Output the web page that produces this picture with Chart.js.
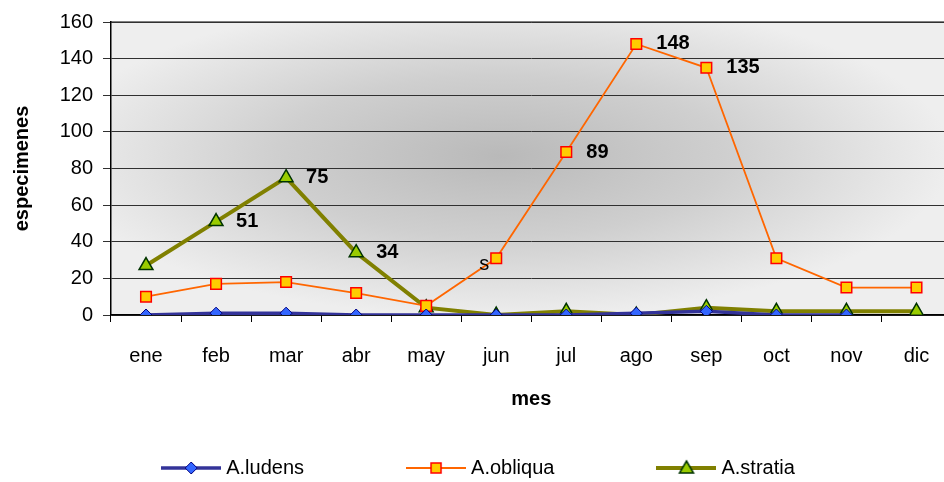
<!DOCTYPE html>
<html>
<head>
<meta charset="utf-8">
<script src="https://cdn.jsdelivr.net/npm/chart.js@4.4.0/dist/chart.umd.min.js"></script>
<style>
  html, body { margin: 0; padding: 0; background: #fff; overflow: hidden; }
  #wrap { position: relative; width: 961px; height: 482px; }
</style>
</head>
<body>
<div id="wrap"><canvas id="myChart" width="961" height="482"></canvas></div>
<script>
var months = ["ene", "feb", "mar", "abr", "may", "jun", "jul", "ago", "sep", "oct", "nov", "dic"];
var ludens = [0, 1, 1, 0, 0, 0, 0, 1, 2, 0, 0, null];
var obliqua = [10, 17, 18, 12, 5, 31, 89, 148, 135, 31, 15, 15];
var stratia = [27, 51, 75, 34, 4, 0, 2, 0, 4, 2, 2, 2];
var yTicks = [0, 20, 40, 60, 80, 100, 120, 140, 160];

// labels written next to some points
var obliquaLabels = [null, null, null, null, null, "s", "89", "148", "135", null, null, null];
var stratiaLabels = [null, "51", "75", "34", null, null, null, null, null, null, null, null];

// legend symbol: line with marker
function legendIcon(lineColor, lineWidth, drawMarker) {
  var c = document.createElement("canvas");
  c.width = 60;
  c.height = 20;
  var g = c.getContext("2d");
  g.strokeStyle = lineColor;
  g.lineWidth = lineWidth;
  g.beginPath();
  g.moveTo(0, 10);
  g.lineTo(60, 10);
  g.stroke();
  drawMarker(g);
  return c;
}

var iconLudens = legendIcon("#333399", 3.5, function (g) {
  g.fillStyle = "#3366ff";
  g.strokeStyle = "#000080";
  g.lineWidth = 1;
  g.beginPath();
  g.moveTo(30, 4); g.lineTo(36, 10); g.lineTo(30, 16); g.lineTo(24, 10);
  g.closePath();
  g.fill(); g.stroke();
});
var iconObliqua = legendIcon("#ff6600", 2, function (g) {
  g.fillStyle = "#ffcc00";
  g.strokeStyle = "#ff0000";
  g.lineWidth = 1.5;
  g.fillRect(25, 5, 10, 10);
  g.strokeRect(25, 5, 10, 10);
});
var iconStratia = legendIcon("#808000", 4, function (g) {
  g.fillStyle = "#99cc00";
  g.strokeStyle = "#003300";
  g.lineWidth = 1.5;
  g.beginPath();
  g.moveTo(30, 3); g.lineTo(37, 15); g.lineTo(23, 15);
  g.closePath();
  g.fill(); g.stroke();
});

var pad = "                  ";

// grey shaded plot area
var plotBackground = {
  id: "plotBackground",
  beforeDraw: function (chart) {
    var a = chart.chartArea;
    var ctx = chart.ctx;
    var cx = (a.left + a.right) / 2 - 30;
    var cy = (a.top + a.bottom) / 2 - 12;
    var rx = (a.right - a.left) / 2 + 30;
    var ry = (a.bottom - a.top) / 2 + 15;
    ctx.save();
    ctx.beginPath();
    ctx.rect(a.left, a.top, a.right - a.left, a.bottom - a.top);
    ctx.clip();
    ctx.translate(cx, cy);
    ctx.scale(rx / ry, 1);
    var grad = ctx.createRadialGradient(0, 0, 0, 0, 0, ry);
    grad.addColorStop(0, "#b9b9b9");
    grad.addColorStop(0.5, "#cfcfcf");
    grad.addColorStop(1, "#eeeeee");
    ctx.fillStyle = grad;
    ctx.fillRect(-rx * 2, -ry * 2, rx * 4, ry * 4);
    ctx.restore();
    ctx.save();
    ctx.strokeStyle = "#808080";
    ctx.lineWidth = 2;
    ctx.beginPath();
    ctx.moveTo(a.left, a.top);
    ctx.lineTo(a.right, a.top);
    ctx.stroke();
    ctx.restore();
  }
};

// value labels
var pointLabels = {
  id: "pointLabels",
  afterDatasetsDraw: function (chart) {
    var ctx = chart.ctx;
    ctx.save();
    ctx.fillStyle = "#000";
    ctx.textBaseline = "middle";
    chart.data.datasets.forEach(function (ds, di) {
      if (!ds.pointLabels) return;
      var meta = chart.getDatasetMeta(di);
      ds.pointLabels.forEach(function (txt, i) {
        if (!txt) return;
        var p = meta.data[i];
        if (txt === "s") {
          ctx.font = "20px 'Liberation Sans', Arial, sans-serif";
          ctx.textAlign = "center";
          ctx.fillText(txt, p.x - 12, p.y + 6);
        } else {
          ctx.font = "bold 20px 'Liberation Sans', Arial, sans-serif";
          ctx.textAlign = "left";
          ctx.fillText(txt, p.x + 20, p.y);
        }
      });
    });
    ctx.restore();
  }
};

Chart.defaults.font.family = "'Liberation Sans', Arial, sans-serif";
Chart.defaults.font.size = 20;
Chart.defaults.color = "#000";

new Chart("myChart", {
  type: "line",
  data: {
    labels: months,
    datasets: [
      {
        label: "A.ludens" + pad,
        data: ludens,
        borderColor: "#333399",
        borderWidth: 3.5,
        pointStyle: "rectRot",
        pointRadius: 6,
        pointBackgroundColor: "#3366ff",
        pointBorderColor: "#000080",
        pointBorderWidth: 1,
        legendIcon: iconLudens,
      },
      {
        label: "A.obliqua" + pad,
        data: obliqua,
        borderColor: "#ff6600",
        borderWidth: 1.8,
        pointStyle: "rect",
        pointRadius: 7.5,
        pointBackgroundColor: "#ffcc00",
        pointBorderColor: "#ff0000",
        pointBorderWidth: 1.5,
        pointLabels: obliquaLabels,
        legendIcon: iconObliqua,
      },
      {
        label: "A.stratia",
        data: stratia,
        borderColor: "#808000",
        borderWidth: 4,
        pointStyle: "triangle",
        pointRadius: 8,
        pointBackgroundColor: "#99cc00",
        pointBorderColor: "#003300",
        pointBorderWidth: 1.5,
        pointLabels: stratiaLabels,
        legendIcon: iconStratia,
      },
    ],
  },
  options: {
    responsive: false,
    animation: false,
    devicePixelRatio: 1,
    layout: {
      padding: { top: 19, left: 0, right: 0, bottom: -6 },
    },
    scales: {
      x: {
        offset: true,
        grid: {
          offset: true,
          drawOnChartArea: false,
          drawTicks: true,
          tickLength: 7,
          color: "#000",
        },
        border: { color: "#000", width: 1.5 },
        ticks: { padding: 22, maxRotation: 0, autoSkip: false },
        title: {
          display: true,
          text: "mes",
          font: { weight: "bold", size: 20 },
          padding: { top: 4, bottom: 40 },
        },
        afterFit: function (scale) {
          scale.height = 136;
        },
      },
      y: {
        min: 0,
        max: 160,
        afterBuildTicks: function (scale) {
          scale.ticks = yTicks.map(function (v) { return { value: v }; });
        },
        grid: {
          color: "#303030",
          tickLength: 8,
        },
        border: { color: "#000", width: 1.5 },
        ticks: { padding: 10 },
        title: {
          display: true,
          text: "especimenes",
          font: { weight: "bold", size: 20 },
          padding: { top: 10, bottom: 0 },
        },
        afterFit: function (scale) {
          scale.width = 111;
        },
      },
    },
    plugins: {
      legend: {
        position: "bottom",
        labels: {
          usePointStyle: true,
          pointStyleWidth: 50,
          padding: 7,
          font: { size: 20 },
          color: "#000",
          generateLabels: function (chart) {
            return chart.data.datasets.map(function (ds, i) {
              return {
                text: ds.label,
                pointStyle: ds.legendIcon,
                fillStyle: ds.borderColor,
                strokeStyle: ds.borderColor,
                lineWidth: 0,
                hidden: false,
                datasetIndex: i,
              };
            });
          },
        },
      },
      tooltip: { enabled: false },
    },
  },
  plugins: [plotBackground, pointLabels],
});
</script>
</body>
</html>
